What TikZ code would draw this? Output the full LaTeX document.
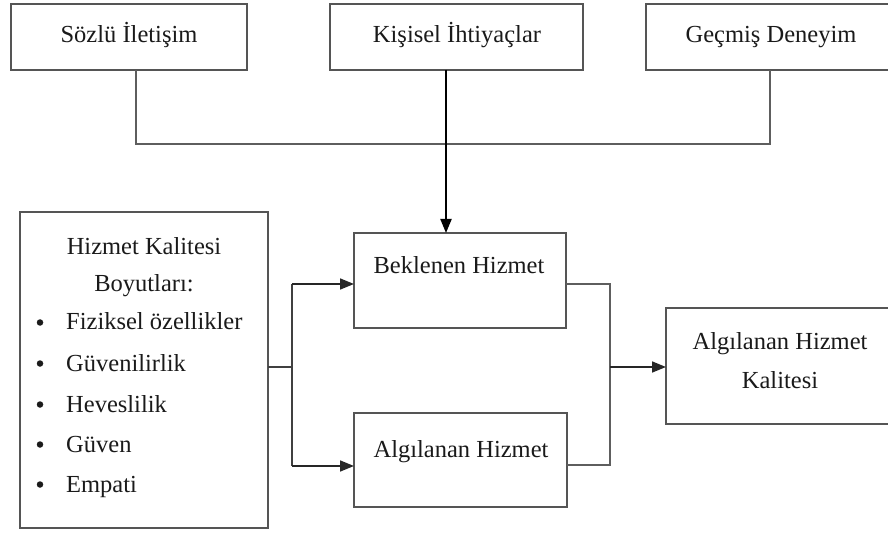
\documentclass[tikz,border=0pt]{standalone}
\usepackage{fontspec}
\setmainfont{Liberation Serif}
\usetikzlibrary{arrows.meta}
\definecolor{boxc}{HTML}{555555}
\definecolor{linec}{HTML}{5E5E5E}
\definecolor{txtc}{HTML}{1A1A1A}
\begin{document}
\begin{tikzpicture}[x=1pt,y=-1pt,
  box/.style={draw=boxc,line width=1.8pt,inner sep=0pt,outer sep=0pt,anchor=north west},
  lbl/.style={text=txtc,font=\fontsize{24.5}{30}\selectfont,inner sep=0pt,anchor=base},
  dot/.style={circle,fill=txtc,inner sep=0pt,minimum size=6.5pt},
  conn/.style={draw=linec,line width=1.4pt},
  arr/.style={draw=black!85,line width=1.6pt,-{Triangle[length=14pt,width=11pt]}}]
\useasboundingbox[fill=white] (0,0) rectangle (888,534);
% boxes
\node[box,minimum width=236,minimum height=66] (s) at (11,4) {};
\node[box,minimum width=253,minimum height=66] (k) at (330,4) {};
\node[box,minimum width=246,minimum height=66] (g) at (646,4) {};
\node[box,minimum width=248,minimum height=316] (h) at (20,212) {};
\node[box,minimum width=212,minimum height=95] (b) at (354,233) {};
\node[box,minimum width=213,minimum height=94] (a) at (354,413) {};
\node[box,minimum width=228,minimum height=116] (q) at (666,308) {};
% texts
\node[lbl] (ts) at (129,43) {Sözlü İletişim};
\node[lbl] (tk) at (457,43) {Kişisel İhtiyaçlar};
\node[lbl] (tg) at (771,43) {Geçmiş Deneyim};
\node[lbl] (th1) at (144,255) {Hizmet Kalitesi};
\node[lbl] (th2) at (144,292) {Boyutları:};
\foreach \y/\t/\n in {330/Fiziksel özellikler/1,371/Güvenilirlik/2,412/Heveslilik/3,452/Güven/4,492/Empati/5}{
  \node[dot] (bu\n) at (40,\y-7.5) {};
  \node[lbl,anchor=base west] (it\n) at (66,\y) {\t};
}
\node[lbl] (tb) at (459,274) {Beklenen Hizmet};
\node[lbl] (ta) at (461,457) {Algılanan Hizmet};
\node[lbl] (tq1) at (780,349) {Algılanan Hizmet};
\node[lbl] (tq2) at (780,388) {Kalitesi};
% top connectors
\coordinate (j1) at (136,144);
\coordinate (j2) at (770,144);
\draw[conn] (s.south -| j1) -- (j1) -- (j2) -- (g.south -| j2);
\draw[arr,draw=black,line width=2pt] (k.south -| 446,0) -- (b.north -| 446,0);
% left connectors
\coordinate (l0) at (292,367);
\coordinate (l1) at (292,284);
\coordinate (l2) at (292,466);
\draw[conn,draw=black!75] (h.east |- l0) -- (l0);
\draw[conn,draw=black!75] (l1) -- (l2);
\draw[arr] (l1) -- (b.west |- l1);
\draw[arr] (l2) -- (a.west |- l2);
% right connectors
\coordinate (r1) at (610,284);
\coordinate (r2) at (610,465);
\coordinate (r0) at (610,367);
\draw[conn] (b.east |- r1) -- (r1) -- (r2) -- (a.east |- r2);
\draw[arr] (r0) -- (q.west |- r0);
\end{tikzpicture}
\end{document}
